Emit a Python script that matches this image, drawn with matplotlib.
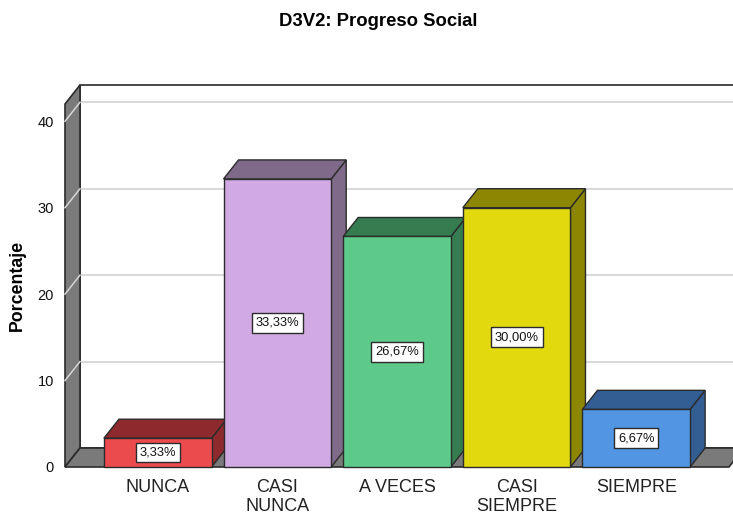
import matplotlib
matplotlib.use('Agg')
import matplotlib.pyplot as plt
from matplotlib.patches import Polygon

plt.rcParams['font.family'] = ['Liberation Sans', 'DejaVu Sans']

# ---- data ----
categories = ['NUNCA', 'CASI\nNUNCA', 'A VECES', 'CASI\nSIEMPRE', 'SIEMPRE']
values = [3.33, 33.33, 26.67, 30.00, 6.67]
value_labels = ['3,33%', '33,33%', '26,67%', '30,00%', '6,67%']
yticks = [0, 10, 20, 30, 40]
title = 'D3V2: Progreso Social'
ylabel = 'Porcentaje'

# ---- style ----
front_colors = ['#EC4B4E', '#D1AAE4', '#5ECA8A', '#E3D90F', '#5195E3']
dark_colors = ['#8E2A2E', '#7F6A8A', '#357C50', '#8C8600', '#335E93']
edge = '#2b2b2b'
wall = '#7A7A7A'
grid_c = '#D6D6D6'

fig = plt.figure(figsize=(7.33, 5.13), dpi=100)
ax = fig.add_axes([65 / 733, 46 / 513, 664 / 733, 363 / 513])
x0, x1 = -0.775, 4.775
ymax = 42
ax.set_xlim(x0, x1)
ax.set_ylim(0, ymax)
for s in ax.spines.values():
    s.set_visible(False)

# depth offsets (data units)
dx = 15 / (664 / (x1 - x0))
dy = 19 / (363 / ymax)

# back wall
ax.add_patch(Polygon([(x0 + dx, dy), (x1 + dx, dy), (x1 + dx, ymax + dy), (x0 + dx, ymax + dy)],
                     closed=True, fc='white', ec=edge, lw=1.2, zorder=1, clip_on=False))
# grid on back wall
for v in yticks[1:]:
    ax.plot([x0 + dx, x1 + dx], [v + dy, v + dy], color=grid_c, lw=1.3, zorder=2, clip_on=False)
# left wall
ax.add_patch(Polygon([(x0, 0), (x0 + dx, dy), (x0 + dx, ymax + dy), (x0, ymax)],
                     closed=True, fc=wall, ec=edge, lw=1.2, zorder=3, clip_on=False))
for v in yticks[1:]:
    ax.plot([x0, x0 + dx], [v, v + dy], color=grid_c, lw=1.1, zorder=4, clip_on=False)
# floor
ax.add_patch(Polygon([(x0, 0), (x1, 0), (x1 + dx, dy), (x0 + dx, dy)],
                     closed=True, fc=wall, ec=edge, lw=1.2, zorder=3, clip_on=False))

# bars
w = 0.9
xs = list(range(len(categories)))
for i, (x, v) in enumerate(zip(xs, values)):
    xl, xr = x - w / 2, x + w / 2
    z = 10 + 3 * i
    ax.add_patch(Polygon([(xr, 0), (xr + dx, dy), (xr + dx, v + dy), (xr, v)],
                         closed=True, fc=dark_colors[i], ec=edge, lw=1, zorder=z, clip_on=False))
    ax.add_patch(Polygon([(xl, v), (xr, v), (xr + dx, v + dy), (xl + dx, v + dy)],
                         closed=True, fc=dark_colors[i], ec=edge, lw=1, zorder=z, clip_on=False))
    ax.bar(x, v, width=w, color=front_colors[i], edgecolor=edge, lw=1, zorder=z + 1, clip_on=False)
    ax.text(x, v / 2, value_labels[i], ha='center', va='center', fontsize=9.3, color='#111',
            zorder=z + 2,
            bbox=dict(boxstyle='square,pad=0.3', fc='white', ec=edge, lw=1))

ax.set_yticks(yticks)
ax.set_yticklabels([str(t) for t in yticks])
ax.tick_params(axis='y', length=0, pad=8, labelsize=10.5, labelcolor='#111')
ax.set_xticks(xs)
ax.set_xticklabels(categories, linespacing=1.08)
ax.tick_params(axis='x', length=0, pad=9, labelsize=13, labelcolor='#222')

fig.text(378 / 733, 1 - 21 / 513, title, ha='center', va='center', fontsize=13.3, fontweight='bold')
fig.text(17 / 733, 1 - 285 / 513, ylabel, ha='center', va='center', rotation=90,
         fontsize=12.8, fontweight='bold')

fig.savefig('out.png', dpi=100)
